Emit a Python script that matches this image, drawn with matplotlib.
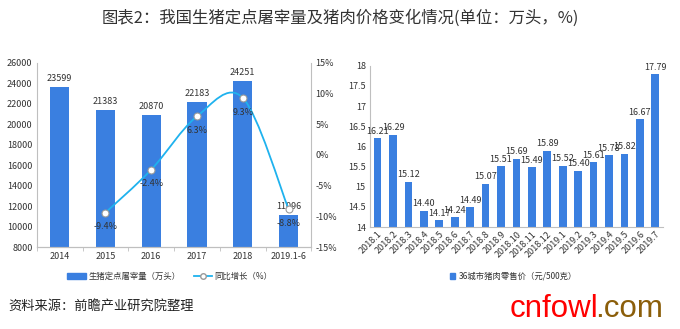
import matplotlib.pyplot as plt
from matplotlib.path import Path
from matplotlib.patches import PathPatch
from matplotlib.lines import Line2D
from matplotlib.patches import Patch
import numpy as np

plt.rcParams['font.family'] = ['Noto Sans CJK SC', 'DejaVu Sans']

# slaughter volume (10k head) and YoY growth (%)
years = ["2014", "2015", "2016", "2017", "2018", "2019.1-6"]
slaughter = [23599, 21383, 20870, 22183, 24251, 11096]
growth_years = [1, 2, 3, 4, 5]
growth = [-9.4, -2.4, 6.3, 9.3, -8.8]

# 36-city pork retail price (yuan / 500 g)
months = ["2018.1", "2018.2", "2018.3", "2018.4", "2018.5", "2018.6", "2018.7",
          "2018.8", "2018.9", "2018.10", "2018.11", "2018.12", "2019.1",
          "2019.2", "2019.3", "2019.4", "2019.5", "2019.6", "2019.7"]
price = [16.21, 16.29, 15.12, 14.40, 14.17, 14.24, 14.49, 15.07, 15.51, 15.69,
         15.49, 15.89, 15.52, 15.40, 15.61, 15.78, 15.82, 16.67, 17.79]

BAR = "#3a7fe0"
LINE = "#1fb2ee"
AX = "#bfbfbf"
TXT = "#333333"


def smooth_path(xs, ys):
    # Catmull-Rom style cubic segments, like a spreadsheet "smoothed line"
    pts = np.column_stack([xs, ys]).astype(float)
    ext = np.vstack([pts[0], pts, pts[-1]])
    verts = [tuple(pts[0])]
    codes = [Path.MOVETO]
    for i in range(1, len(ext) - 2):
        p0, p1, p2, p3 = ext[i - 1], ext[i], ext[i + 1], ext[i + 2]
        c1 = p1 + (p2 - p0) / 6
        c2 = p2 - (p3 - p1) / 6
        verts += [tuple(c1), tuple(c2), tuple(p2)]
        codes += [Path.CURVE4] * 3
    return Path(verts, codes)


def style_axis(ax):
    ax.spines['top'].set_visible(False)
    for s in ('left', 'right', 'bottom'):
        ax.spines[s].set_color(AX)
        ax.spines[s].set_linewidth(0.8)
    ax.tick_params(axis='y', length=0, labelsize=6.5, colors=TXT, pad=3)
    ax.tick_params(axis='x', which='major', length=0, labelsize=6.5, colors=TXT)
    ax.tick_params(axis='x', which='minor', length=3, color=AX)


fig = plt.figure(figsize=(6.8, 3.29), dpi=100)

fig.text(0.5, 0.945, "图表2：我国生猪定点屠宰量及猪肉价格变化情况(单位：万头，%)",
         ha='center', va='center', fontsize=11.8, color=TXT)

# left: slaughter bars + growth line
ax1 = fig.add_axes([0.054, 0.249, 0.404, 0.56])
x = np.arange(len(years))
ax1.bar(x, slaughter, width=0.42, color=BAR, zorder=2)
for xi, v in zip(x, slaughter):
    ax1.text(xi, v + 400, str(v), ha='center', va='bottom', fontsize=6.5, color=TXT)
ax1.set_ylim(8000, 26000)
ax1.set_yticks(range(8000, 26001, 2000))
ax1.set_xlim(-0.5, len(years) - 0.5)
ax1.set_xticks(x)
ax1.set_xticklabels(years)
ax1.set_xticks(np.arange(-0.5, len(years), 1), minor=True)
style_axis(ax1)
ax1.spines['right'].set_visible(False)

ax2 = ax1.twinx()
ax2.set_ylim(-15, 15)
ax2.set_yticks(range(-15, 16, 5))
ax2.set_yticklabels([f"{t}%" for t in range(-15, 16, 5)])
style_axis(ax2)
ax2.spines['left'].set_visible(False)
ax2.add_patch(PathPatch(smooth_path(growth_years, growth), fill=False,
                        edgecolor=LINE, lw=1.3, zorder=3))
ax2.plot(growth_years, growth, ls='none', marker='o', ms=5,
         mfc='white', mec='#999999', mew=0.8, zorder=4)
for xi, g in zip(growth_years, growth):
    ax2.annotate(f"{g}%", (xi, g), textcoords='offset points', xytext=(0, -7),
                 ha='center', va='top', fontsize=6.5, color=TXT, zorder=5)

handles = [Patch(color=BAR),
           Line2D([], [], color=LINE, lw=1.3, marker='o', ms=4,
                  mfc='white', mec='#999999')]
fig.legend(handles, ["生猪定点屠宰量（万头）", "同比增长（%）"],
           loc='center', bbox_to_anchor=(0.25, 0.16), ncol=2, frameon=False,
           fontsize=6, handlelength=2.2, columnspacing=1.6, handletextpad=0.3,
           labelcolor=TXT)

# right: monthly pork price bars
ax3 = fig.add_axes([0.544, 0.31, 0.431, 0.49])
xm = np.arange(len(months))
ax3.bar(xm, price, width=0.5, color=BAR, zorder=2)
for xi, v in zip(xm, price):
    ax3.text(xi, v + 0.06, f"{v:.2f}", ha='center', va='bottom', fontsize=6.5, color=TXT)
ax3.set_ylim(14, 18)
ax3.set_yticks(np.arange(14, 18.01, 0.5))
ax3.set_yticklabels([f"{t:g}" for t in np.arange(14, 18.01, 0.5)])
ax3.set_xlim(-0.5, len(months) - 0.5)
ax3.set_xticks(xm)
ax3.set_xticklabels(months, rotation=45, ha='right', rotation_mode='anchor')
style_axis(ax3)
ax3.spines['right'].set_visible(False)
ax3.tick_params(axis='x', which='major', pad=2)

fig.legend([Patch(color=BAR)], ["36城市猪肉零售价（元/500克）"],
           loc='center', bbox_to_anchor=(0.755, 0.16), frameon=False,
           fontsize=6, handlelength=0.6, handleheight=0.6, handletextpad=0.4,
           labelcolor=TXT)

fig.text(0.012, 0.068, "资料来源：前瞻产业研究院整理", ha='left', va='center',
         fontsize=9.5, color='#222222')

fig.text(0.75, 0.062, "cnfowl", ha='left', va='center', fontsize=22.5,
         color='#ff0000', family='Liberation Sans')
fig.text(0.875, 0.062, ".com", ha='left', va='center', fontsize=22.5,
         color='#8b5e0a', family='Liberation Sans')

fig.savefig("out.png", dpi=100)
